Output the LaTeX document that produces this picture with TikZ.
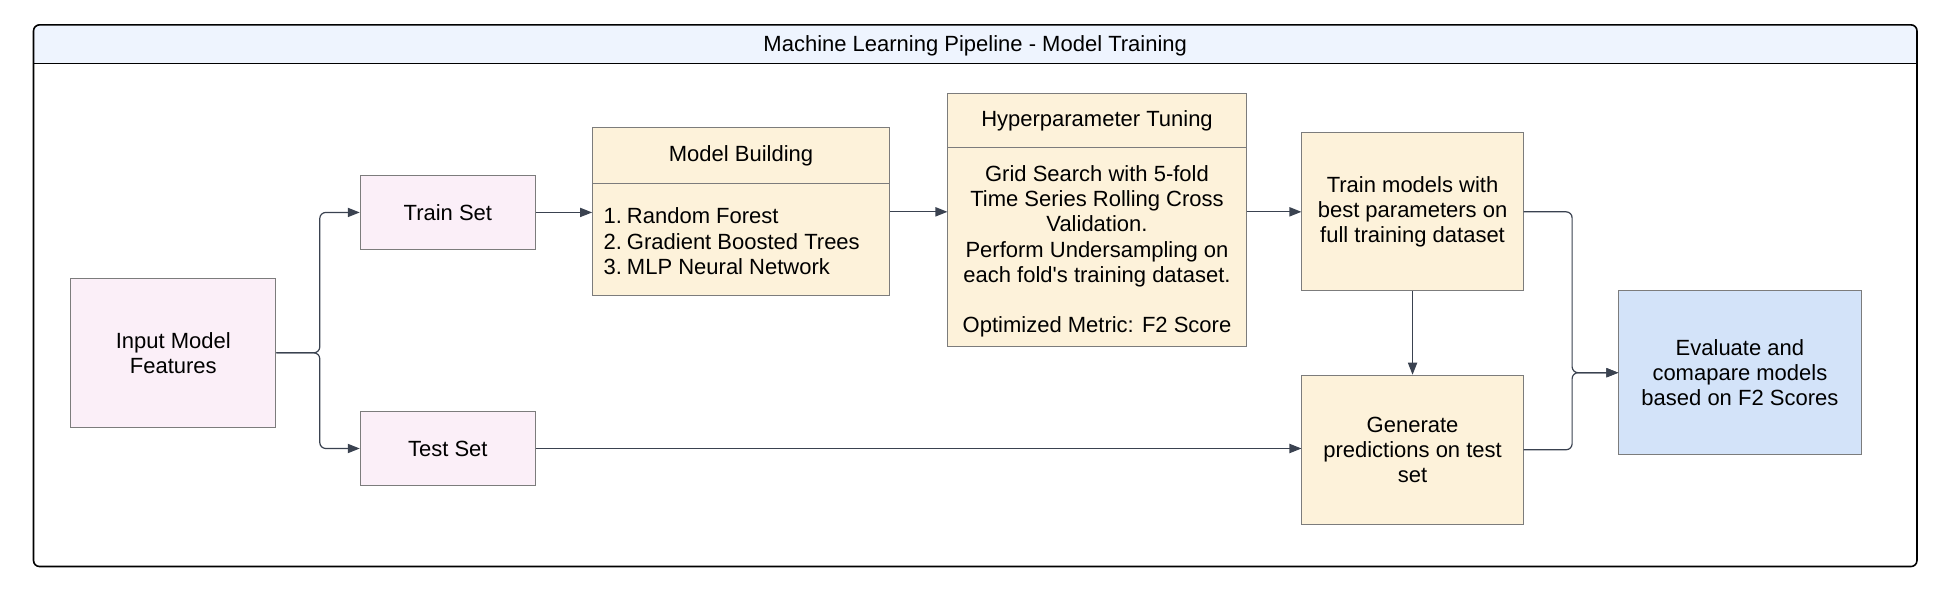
\documentclass[tikz,border=0pt]{standalone}
\usepackage{fontspec}
\setmainfont{Liberation Sans}
\usetikzlibrary{arrows.meta,positioning,calc}
\definecolor{pinkfill}{HTML}{FBEFF8}
\definecolor{creamfill}{HTML}{FDF2DA}
\definecolor{bluefill}{HTML}{D3E3F9}
\definecolor{bandfill}{HTML}{EEF4FE}
\definecolor{edgegray}{HTML}{7C7C7C}
\definecolor{linegray}{HTML}{3A4250}
\tikzset{
  box/.style={draw=edgegray, line width=0.5pt, align=center, inner sep=3pt,
    font=\fontsize{11}{12.6}\selectfont},
  setbox/.style={box, fill=pinkfill},
  stagebox/.style={box, fill=creamfill},
  evalbox/.style={box, fill=bluefill},
  plain/.style={align=center, inner sep=0pt, font=\fontsize{11}{12.6}\selectfont},
  flow/.style={-{Triangle[length=6pt,width=4.6pt]}, draw=linegray, line width=0.6pt, rounded corners=3pt},
}
\begin{document}
\begin{tikzpicture}[x=0.6212pt,y=-0.6212pt]
\useasboundingbox (0,0) rectangle (1568,475);
\fill[bandfill, rounded corners=3pt] (27,51) -- (27,20) -- (1543,20) -- (1543,51);
\draw[line width=0.8pt, rounded corners=3pt] (27,20) rectangle (1543,456);
\draw[line width=0.8pt] (27,51) -- (1543,51);
\node[plain] (title) at (785,36.5) {Machine Learning Pipeline - Model Training};

\node[setbox, minimum width=102.5pt, minimum height=74.5pt] (inp) at (139.5,284) {Input Model\\Features};
\node[setbox, minimum width=87.6pt, minimum height=37.3pt] (ts) at (360.5,171) {Train Set};
\node[setbox, minimum width=87.6pt, minimum height=37.3pt] (tst) at (360.5,361) {Test Set};

\node[stagebox, minimum width=148.5pt, minimum height=83.9pt] (mb) at (596.5,170.5) {};
\node[stagebox, anchor=north, minimum width=148.5pt, minimum height=28pt] (mbh) at (mb.north) {Model Building};
\node[plain, anchor=west] (mbl) at ($(mbh.south west)!.5!(mb.south west)+(9,3)$)
  {\begin{tabular}{@{}l@{\hspace{2.5pt}}l@{}}1.&Random Forest\\2.&Gradient Boosted Trees\\3.&MLP Neural Network\end{tabular}};

\node[stagebox, minimum width=149.1pt, minimum height=126.7pt] (hp) at (883,177) {};
\node[stagebox, anchor=north, minimum width=149.1pt, minimum height=27.3pt] (hph) at (hp.north) {Hyperparameter Tuning};
\node[plain] (hpb) at ($(hph.south)!.5!(hp.south)+(0,3)$)
  {Grid Search with 5-fold\\Time Series Rolling Cross\\Validation.\\Perform Undersampling on\\each fold\textquotesingle s training dataset.\\[12.6pt]Optimized Metric: F2 Score};

\node[stagebox, minimum width=110.6pt, minimum height=78.9pt] (tm) at (1137,170.5) {Train models with\\best parameters on\\full training dataset};
\node[stagebox, minimum width=110.6pt, minimum height=74.5pt] (gp) at (1137,362) {Generate\\predictions on test\\set};
\node[evalbox, minimum width=121.1pt, minimum height=82pt] (ev) at (1400.5,300) {Evaluate and\\comapare models\\based on F2 Scores};

\draw[flow] (inp.east) -- ++(35,0) |- (ts.west);
\draw[flow] (inp.east) -- ++(35,0) |- (tst.west);
\draw[flow] (ts.east) -- (ts.east -| mb.west);
\draw[flow] (mb.east) -- (mb.east -| hp.west);
\draw[flow] (tm.west -| hp.east) -- (tm.west);
\draw[flow] (tst.east) -- (tst.east -| gp.west);
\draw[flow] (tm.south) -- (gp.north);
\draw[flow] (tm.east) -- ++(39,0) |- (ev.west);
\draw[flow] (gp.east) -- ++(39,0) |- (ev.west);
\end{tikzpicture}
\end{document}
